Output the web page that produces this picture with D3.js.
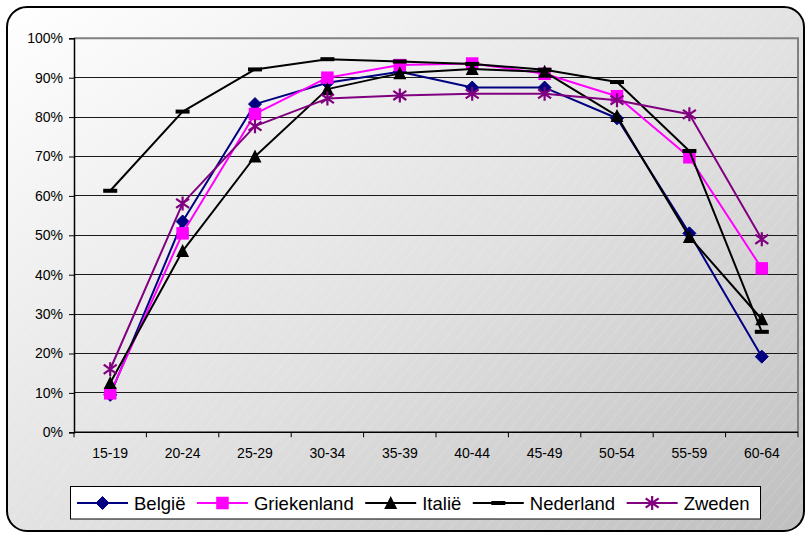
<!DOCTYPE html>
<html>
<head>
<meta charset="utf-8">
<script src="https://cdn.jsdelivr.net/npm/d3@7"></script>
<style>
  html, body { margin: 0; padding: 0; background: #ffffff; }
  svg { display: block; font-family: Arial, "Liberation Sans", sans-serif; }
</style>
</head>
<body>
<svg id="chart" width="805" height="533"></svg>
<script>
const categories = ["15-19","20-24","25-29","30-34","35-39","40-44","45-49","50-54","55-59","60-64"];
const seriesNames = ["België","Griekenland","Italië","Nederland","Zweden"];
const belgie      = [0.095,0.535,0.833,0.887,0.915,0.875,0.875,0.797,0.505,0.192];
const griekenland = [0.099,0.505,0.808,0.900,0.932,0.936,0.910,0.853,0.698,0.416];
const italie      = [0.125,0.460,0.700,0.871,0.911,0.922,0.915,0.803,0.496,0.287];
const nederland   = [0.613,0.814,0.921,0.947,0.941,0.935,0.920,0.889,0.714,0.255];
const zweden      = [0.160,0.581,0.777,0.847,0.855,0.859,0.859,0.843,0.807,0.490];
const yTicks = [0,0.1,0.2,0.3,0.4,0.5,0.6,0.7,0.8,0.9,1.0];

(function(){
const colors = {"België":"#000080","Griekenland":"#ff00ff","Italië":"#000000","Nederland":"#000000","Zweden":"#800080"};
const markers = {"België":"diamond","Griekenland":"square","Italië":"triangle","Nederland":"dash","Zweden":"star"};
const dataBySeries = {"België":belgie,"Griekenland":griekenland,"Italië":italie,"Nederland":nederland,"Zweden":zweden};

const svg = d3.select("#chart");
const defs = svg.append("defs");
const grad = defs.append("linearGradient").attr("id","bg")
  .attr("x1","0").attr("y1","0").attr("x2","1").attr("y2","1");
grad.append("stop").attr("offset","0%").attr("stop-color","#ffffff");
grad.append("stop").attr("offset","55%").attr("stop-color","#e0e0e0");
grad.append("stop").attr("offset","100%").attr("stop-color","#bfbfbf");

const pat = defs.append("pattern").attr("id","hatch").attr("patternUnits","userSpaceOnUse")
  .attr("width",9).attr("height",9).attr("patternTransform","rotate(40)");
pat.append("line").attr("x1",0).attr("y1",0).attr("x2",0).attr("y2",9)
  .attr("stroke","#ffffff").attr("stroke-width",0.8).attr("stroke-opacity",0.35);

// outer rounded frame
svg.append("rect").attr("x",7).attr("y",7).attr("width",797).attr("height",524)
  .attr("rx",20).attr("ry",20).attr("fill","url(#bg)");
svg.append("rect").attr("x",7).attr("y",7).attr("width",797).attr("height",524)
  .attr("rx",20).attr("ry",20).attr("fill","url(#hatch)")
  .attr("stroke","#000").attr("stroke-width",2);

const pLeft = 74, pRight = 798, pTop = 38.3, pBottom = 432.3;
const x = d3.scaleBand().domain(categories).range([pLeft,pRight]);
const y = d3.scaleLinear().domain([0,1]).range([pBottom,pTop]);

// gridlines
svg.append("g").selectAll("line").data(yTicks.filter(d => d > 0 && d < 1)).join("line")
  .attr("x1",pLeft).attr("x2",pRight)
  .attr("y1",d => y(d)).attr("y2",d => y(d))
  .attr("stroke","#1a1a1a").attr("stroke-width",1).attr("shape-rendering","crispEdges");

// plot area border top/right (gray)
svg.append("path")
  .attr("d",`M${pLeft},${y(1)}H${pRight}V${pBottom}`)
  .attr("fill","none").attr("stroke","#808080").attr("stroke-width",2);

// y axis
const yAxis = d3.axisLeft(y).tickValues(yTicks).tickFormat(d3.format(".0%")).tickSize(5).tickPadding(6);
const gy = svg.append("g").attr("transform",`translate(${pLeft},0)`).call(yAxis);
gy.select(".domain").attr("stroke","#000").attr("stroke-width",1.5);
gy.selectAll(".tick line").attr("stroke","#000");
gy.selectAll(".tick text").attr("font-size","14px").attr("fill","#000")
  .attr("font-family","Arial, 'Liberation Sans', sans-serif");

// x axis line
svg.append("line").attr("x1",pLeft).attr("x2",pRight).attr("y1",pBottom).attr("y2",pBottom)
  .attr("stroke","#000").attr("stroke-width",1.5);
// boundary ticks
const bounds = categories.map(c => x(c)).concat([x(categories[categories.length-1]) + x.bandwidth()]);
svg.append("g").selectAll("line").data(bounds).join("line")
  .attr("x1",d => d).attr("x2",d => d).attr("y1",pBottom).attr("y2",pBottom+5)
  .attr("stroke","#000").attr("stroke-width",1);
// x labels
const xAxis = d3.axisBottom(x).tickSize(0).tickPadding(0);
const gx = svg.append("g").attr("transform",`translate(0,${pBottom})`).call(xAxis);
gx.select(".domain").remove();
gx.selectAll(".tick text").attr("font-size","14px").attr("fill","#000")
  .attr("font-family","Arial, 'Liberation Sans', sans-serif")
  .attr("dy",null).attr("y",26);

function drawMarker(g, type, color, cx, cy) {
  if (type === "diamond") {
    const r = 6.5;
    g.append("path").attr("d",`M${cx},${cy-r}L${cx+r},${cy}L${cx},${cy+r}L${cx-r},${cy}Z`)
      .attr("fill",color).attr("stroke",color).attr("stroke-width",1);
  } else if (type === "square") {
    const s = 12.5;
    g.append("rect").attr("x",cx-s/2).attr("y",cy-s/2).attr("width",s).attr("height",s)
      .attr("fill",color);
  } else if (type === "triangle") {
    const w = 13, h = 12;
    g.append("path").attr("d",`M${cx},${cy-h/2-1}L${cx+w/2},${cy+h/2}L${cx-w/2},${cy+h/2}Z`)
      .attr("fill",color);
  } else if (type === "dash") {
    g.append("rect").attr("x",cx-7).attr("y",cy-2).attr("width",14).attr("height",4)
      .attr("fill",color);
  } else if (type === "star") {
    const r = 7, d = 6.5;
    g.append("path").attr("d",`M${cx},${cy-r}V${cy+r}M${cx-d},${cy-d*0.7}L${cx+d},${cy+d*0.7}M${cx-d},${cy+d*0.7}L${cx+d},${cy-d*0.7}`)
      .attr("stroke",color).attr("stroke-width",2.2).attr("fill","none");
  }
}

const line = d3.line().x((d,i) => x(categories[i]) + x.bandwidth()/2).y(d => y(d));
seriesNames.forEach(name => {
  const g = svg.append("g");
  const vals = dataBySeries[name];
  g.append("path").datum(vals).attr("d",line).attr("fill","none")
    .attr("stroke",colors[name]).attr("stroke-width",2).attr("stroke-linejoin","round");
  vals.forEach((v,i) => drawMarker(g, markers[name], colors[name], x(categories[i]) + x.bandwidth()/2, y(v)));
});

// legend
const lg = svg.append("g");
lg.append("rect").attr("x",70.5).attr("y",486.5).attr("width",690).attr("height",32.5)
  .attr("fill","#ffffff").attr("stroke","#000").attr("stroke-width",1);
let lx = 77;
const ly = 503;
seriesNames.forEach(name => {
  const c = colors[name];
  lg.append("line").attr("x1",lx).attr("x2",lx+51).attr("y1",ly).attr("y2",ly)
    .attr("stroke",c).attr("stroke-width",2);
  drawMarker(lg, markers[name], c, lx+25.5, ly);
  const t = lg.append("text").attr("x",lx+57).attr("y",ly+6.5)
    .attr("font-size","18.5px").attr("fill","#000").text(name);
  lx = lx + 57 + t.node().getComputedTextLength() + 11.5;
});
})();
</script>
</body>
</html>
